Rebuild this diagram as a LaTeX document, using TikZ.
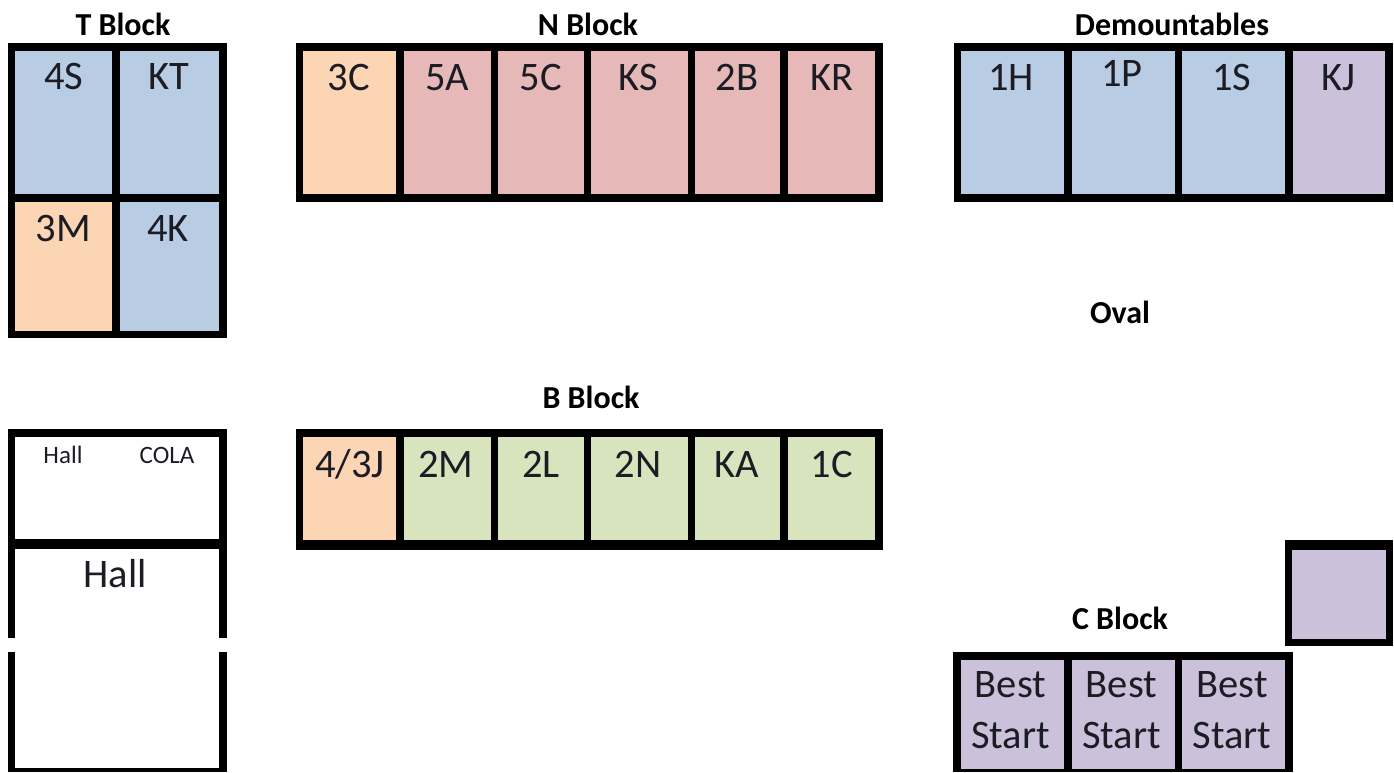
\documentclass[tikz,border=0pt]{standalone}
\usepackage{fontspec}
\setmainfont{Carlito}
\definecolor{cblue}{HTML}{B8CCE4}
\definecolor{corange}{HTML}{FCD5B5}
\definecolor{cred}{HTML}{E6B9B8}
\definecolor{cgreen}{HTML}{D7E4BD}
\definecolor{cpurple}{HTML}{CCC1DA}
\definecolor{ctext}{HTML}{1C1C24}
\tikzset{
  wall/.style={fill=black},
  room/.style={fill=#1},
  roomlabel/.style={anchor=base,inner sep=0pt,text=ctext,font=\fontsize{40.5}{40.5}\selectfont},
  smalllabel/.style={anchor=base,inner sep=0pt,text=ctext,font=\fontsize{25}{25}\selectfont},
  blocktitle/.style={anchor=base,inner sep=0pt,text=black,font=\fontsize{32}{32}\selectfont\bfseries}
}
\begin{document}
\begin{tikzpicture}[x=1pt,y=-1pt]
\useasboundingbox (0,0) rectangle (1394,772);
\fill[white] (0,0) rectangle (1394,772);
% T Block
\path[wall] (8,43) rectangle (226.5,338);
\path[room=cblue] (15.3,50.5) rectangle (112.3,194);
\path[room=cblue] (119.7,50.5) rectangle (218.7,194);
\path[room=corange] (15.3,202) rectangle (112.3,330.5);
\path[room=cblue] (119.7,202) rectangle (218.7,330.5);
\node[blocktitle] (tt) at (123,35) {T Block};
\node[roomlabel] (t1) at (64,89.5) {4S};
\node[roomlabel] (t2) at (169,89.5) {KT};
\node[roomlabel] (t3) at (63.5,241.7) {3M};
\node[roomlabel] (t4) at (168,241.7) {4K};
% N Block
\path[wall] (295.5,43) rectangle (882.5,202);
\path[room=corange] (303.4,50.7) rectangle (396,194);
\path[room=cred] (403.7,50.7) rectangle (490.5,194);
\path[room=cred] (498,50.7) rectangle (583.5,194);
\path[room=cred] (591,50.7) rectangle (687.6,194);
\path[room=cred] (695,50.7) rectangle (780,194);
\path[room=cred] (788,50.7) rectangle (875,194);
\node[blocktitle] (nt) at (588,35) {N Block};
\node[roomlabel] (n1) at (349,90) {3C};
\node[roomlabel] (n2) at (447,90) {5A};
\node[roomlabel] (n3) at (541,90) {5C};
\node[roomlabel] (n4) at (638,90) {KS};
\node[roomlabel] (n5) at (737,90) {2B};
\node[roomlabel] (n6) at (832,90) {KR};
% Demountables
\path[wall] (953.7,43) rectangle (1393,202);
\path[room=cblue] (961.3,50.7) rectangle (1064.3,194);
\path[room=cblue] (1072,50.7) rectangle (1174.7,194);
\path[room=cblue] (1182.3,50.7) rectangle (1285,194);
\path[room=cpurple] (1292.7,50.7) rectangle (1385.3,194);
\node[blocktitle] (dt) at (1172,35) {Demountables};
\node[roomlabel] (d1) at (1011,90) {1H};
\node[roomlabel] (d2) at (1122,86) {1P};
\node[roomlabel] (d3) at (1232,90) {1S};
\node[roomlabel] (d4) at (1338,90) {KJ};
% Oval
\node[blocktitle] (ot) at (1120,323) {Oval};
% B Block
\path[wall] (295.5,429.3) rectangle (882.5,550);
\path[room=corange] (303.4,437.3) rectangle (396,540);
\path[room=cgreen] (403.7,437.3) rectangle (490.5,540);
\path[room=cgreen] (498,437.3) rectangle (583.5,540);
\path[room=cgreen] (591,437.3) rectangle (687.6,540);
\path[room=cgreen] (695,437.3) rectangle (780,540);
\path[room=cgreen] (788,437.3) rectangle (875,540);
\node[blocktitle] (bt) at (591,408) {B Block};
\node[roomlabel] (b1) at (350,477) {4/3J};
\node[roomlabel] (b2) at (446,477) {2M};
\node[roomlabel] (b3) at (541,477) {2L};
\node[roomlabel] (b4) at (638,477) {2N};
\node[roomlabel] (b5) at (737,477) {KA};
\node[roomlabel] (b6) at (832,477) {1C};
% Hall block
\path[wall] (7.5,429.3) rectangle (226.7,772);
\path[room=white] (15.3,437) rectangle (218.7,539.3);
\path[room=white] (15.3,549.3) rectangle (218.7,768.3);
\path[room=white] (7,638.3) rectangle (227,652.3);
\node[smalllabel] (h1) at (63,463.5) {Hall};
\node[smalllabel] (h2) at (167,463.5) {COLA};
\node[roomlabel] (h3) at (115,587) {Hall};
% Small purple square
\path[wall] (1284.7,539.7) rectangle (1393.3,646.3);
\path[room=cpurple] (1292.3,549.7) rectangle (1385.7,638.7);
% C Block
\path[wall] (953.3,652.3) rectangle (1292.7,772);
\path[room=cpurple] (961.3,660) rectangle (1064.3,769);
\path[room=cpurple] (1072,660) rectangle (1174.7,769);
\path[room=cpurple] (1182.3,660) rectangle (1285,769);
\node[blocktitle] (ct) at (1120,629) {C Block};
\node[roomlabel] (c1a) at (1010.5,697) {Best};
\node[roomlabel] (c1b) at (1010.5,748.3) {Start};
\node[roomlabel] (c2a) at (1121.5,697) {Best};
\node[roomlabel] (c2b) at (1121.5,748.3) {Start};
\node[roomlabel] (c3a) at (1232,697) {Best};
\node[roomlabel] (c3b) at (1232,748.3) {Start};
\end{tikzpicture}
\end{document}
